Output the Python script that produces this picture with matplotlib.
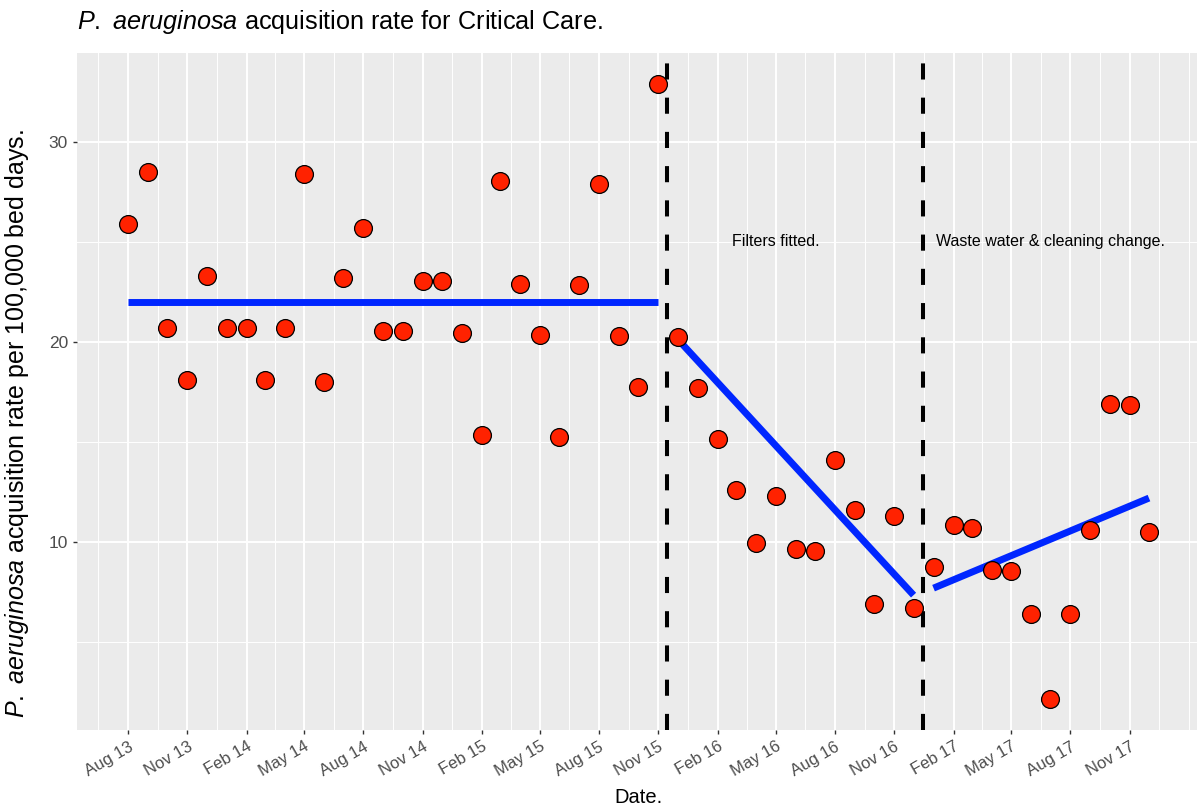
import numpy as np
import pandas as pd
import matplotlib
matplotlib.use("Agg")
import matplotlib.pyplot as plt
import matplotlib.dates as mdates

plt.rcParams['font.family'] = ['Liberation Sans', 'DejaVu Sans']
plt.rcParams['mathtext.fontset'] = 'custom'
plt.rcParams['mathtext.it'] = 'Liberation Sans:italic'
plt.rcParams['mathtext.rm'] = 'Liberation Sans'

# monthly acquisition rates, Aug 2013 - Dec 2017
dates = pd.date_range("2013-08-01", "2017-12-01", freq="MS")
rates = [25.9, 28.5, 20.7, 18.1, 23.3,
         20.7, 20.7, 18.1, 20.7, 28.4, 18.0, 23.2, 25.7, 20.55, 20.55, 23.05, 23.05,
         20.45, 15.35, 28.05, 22.9, 20.35, 15.25, 22.85, 27.9, 20.3, 17.75, 32.9, 20.25,
         17.7, 15.15, 12.6, 9.95, 12.3, 9.65, 9.55, 14.1, 11.6, 6.9, 11.3, 6.7,
         8.75, 10.85, 10.7, 8.6, 8.55, 6.4, 2.15, 6.4, 10.6, 16.9, 16.85, 10.5]

# segmented regression fits
fit1_dates = pd.to_datetime(["2013-08-01", "2015-11-01"])
fit1_vals = [22.0, 22.0]
fit2_dates = pd.to_datetime(["2015-12-01", "2016-12-01"])
fit2_vals = [20.15, 7.35]
fit3_dates = pd.to_datetime(["2017-01-01", "2017-12-01"])
fit3_vals = [7.7, 12.2]

interventions = pd.to_datetime(["2015-11-15", "2016-12-15"])
labels = ["Filters fitted.", "Waste water & cleaning change."]
label_dates = pd.to_datetime(["2016-05-01", "2017-07-01"])
label_y = [25, 25]

# axis breaks
x_breaks = pd.date_range("2013-08-01", "2017-11-01", freq="3MS")
y_breaks = [10, 20, 30]
y_minor = [5, 15, 25]

W, H = 1197, 808
fig = plt.figure(figsize=(W / 100, H / 100), dpi=100)
ax = fig.add_axes([77 / W, (H - 730) / H, 1123 / W, 677 / H])
ax.set_facecolor("#EBEBEB")
for s in ax.spines.values():
    s.set_visible(False)

x = mdates.date2num(dates)
xr = x.max() - x.min()
xlim = (x.min() - 0.05 * xr, x.max() + 0.05 * xr)
yr = max(rates) - min(rates)
ylim = (min(rates) - 0.05 * yr, max(rates) + 0.05 * yr)

# grid: majors every 3 months, minors halfway between
major = mdates.date2num(x_breaks)
minor_x = list(major[:-1] + np.diff(major) / 2) + [major[0] - 46, major[-1] + 46, major[-1] + 92]
ax.set_xticks(major)
ax.set_xticklabels([d.strftime("%b %y") for d in x_breaks])
ax.set_xticks(minor_x, minor=True)
ax.set_yticks(y_breaks)
ax.set_yticks(y_minor, minor=True)
ax.set_xlim(*xlim)
ax.set_ylim(*ylim)
ax.grid(which="major", color="white", linewidth=1.4)
ax.grid(which="minor", color="white", linewidth=0.7)
ax.set_axisbelow(True)
ax.tick_params(which="major", length=3, width=1, color="#333333", labelcolor="#4D4D4D", labelsize=12.5)
ax.tick_params(which="minor", length=0)
plt.setp(ax.get_xticklabels(), rotation=30, ha="right", rotation_mode="anchor", fontsize=12)

for d in interventions:
    ax.axvline(d, color="black", linewidth=2.9, dashes=(4, 4.5), zorder=3)

for fd, fv in [(fit1_dates, fit1_vals), (fit2_dates, fit2_vals), (fit3_dates, fit3_vals)]:
    ax.plot(fd, fv, color="#0026ff", linewidth=5, solid_capstyle="butt", zorder=4)

ax.scatter(dates, rates, s=165, facecolor="#ff2200", edgecolor="black", linewidth=0.9, zorder=5)

for t, d, yv in zip(labels, label_dates, label_y):
    ax.text(d, yv, t, ha="center", va="center", fontsize=11.5, color="black", zorder=6)

ax.set_xlabel("Date.", fontsize=14.5, labelpad=6)
ax.set_ylabel(r"$\it{P.\ aeruginosa}$ acquisition rate per 100,000 bed days.", fontsize=18)
ax.yaxis.set_label_coords(-0.041, 0.453)
fig.text(77 / W, 1 - 22 / H, r"$\it{P.\ aeruginosa}$ acquisition rate for Critical Care.",
         fontsize=18.2, ha="left", va="center")

fig.savefig("out.png", dpi=100)
